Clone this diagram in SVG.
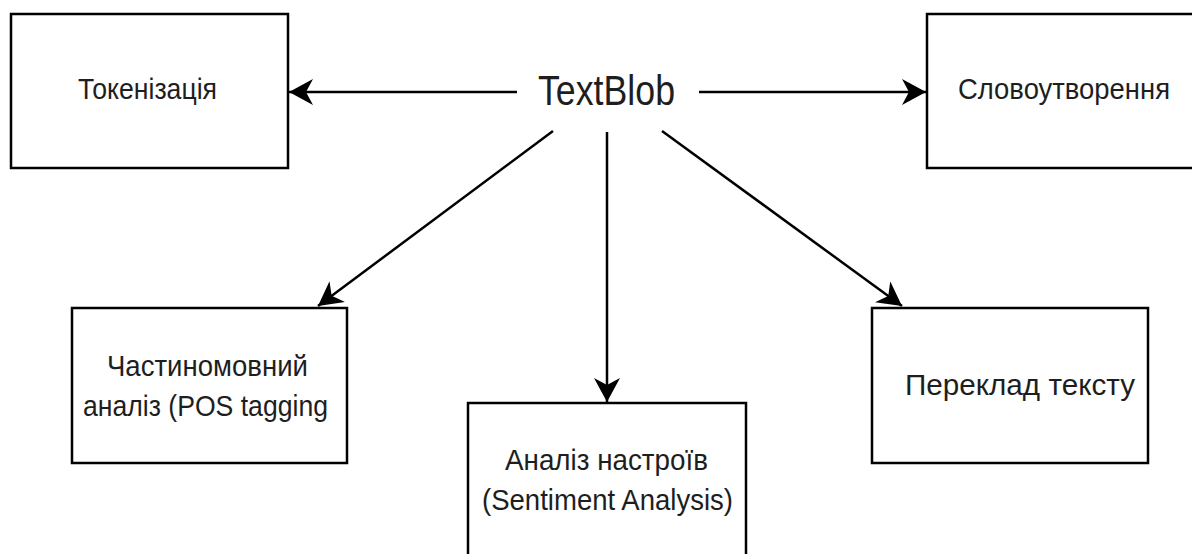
<svg xmlns="http://www.w3.org/2000/svg" width="1192" height="554" viewBox="0 0 1192 554">
<style>
.box{fill:#fff;stroke:#000;stroke-width:2.5}
.lbl{font-family:"Liberation Sans",Arial,sans-serif;font-size:29px;fill:#1e1e1e;text-anchor:middle}
.big{font-family:"Liberation Sans",Arial,sans-serif;font-size:42px;fill:#1e1e1e;text-anchor:middle}
.edge{stroke:#000;stroke-width:2.5;fill:none;marker-end:url(#arr)}
</style>
<defs>
<marker id="arr" markerUnits="userSpaceOnUse" markerWidth="26" markerHeight="26" refX="24" refY="13" orient="auto" viewBox="0 0 26 26">
<path d="M0,0 L24,13 L0,26 L7,13 Z" fill="#000"/>
</marker>
</defs>
<rect width="1192" height="554" fill="#fff"/>
<g id="connectors">
<line class="edge" x1="517" y1="92" x2="289" y2="92"/>
<line class="edge" x1="699" y1="92" x2="926" y2="92"/>
<line class="edge" x1="553" y1="131" x2="318" y2="306"/>
<line class="edge" x1="607" y1="132" x2="607" y2="402"/>
<line class="edge" x1="662" y1="131" x2="902" y2="306"/>
</g>
<g id="textblob"><text class="big" x="606.5" y="105" textLength="137" lengthAdjust="spacingAndGlyphs">TextBlob</text></g>
<g id="tokenization">
<rect class="box" x="11" y="14" width="277" height="154"/>
<text class="lbl" x="147.5" y="99" textLength="139" lengthAdjust="spacingAndGlyphs">Токенізація</text>
</g>
<g id="wordformation">
<rect class="box" x="927" y="14" width="274" height="154"/>
<text class="lbl" x="1064" y="99" textLength="212" lengthAdjust="spacingAndGlyphs">Словоутворення</text>
</g>
<g id="pos">
<rect class="box" x="72" y="308" width="275" height="155"/>
<text class="lbl" x="207.5" y="376" textLength="201" lengthAdjust="spacingAndGlyphs">Частиномовний</text>
<text class="lbl" x="205.5" y="416" textLength="245" lengthAdjust="spacingAndGlyphs">аналіз (POS tagging</text>
</g>
<g id="sentiment">
<rect class="box" x="468" y="403" width="278" height="160"/>
<text class="lbl" x="606.5" y="470" textLength="203" lengthAdjust="spacingAndGlyphs">Аналіз настроїв</text>
<text class="lbl" x="607.5" y="510" textLength="251" lengthAdjust="spacingAndGlyphs">(Sentiment Analysis)</text>
</g>
<g id="translation">
<rect class="box" x="872" y="308" width="276" height="155"/>
<text class="lbl" x="1020" y="395" textLength="230" lengthAdjust="spacingAndGlyphs">Переклад тексту</text>
</g>
</svg>
